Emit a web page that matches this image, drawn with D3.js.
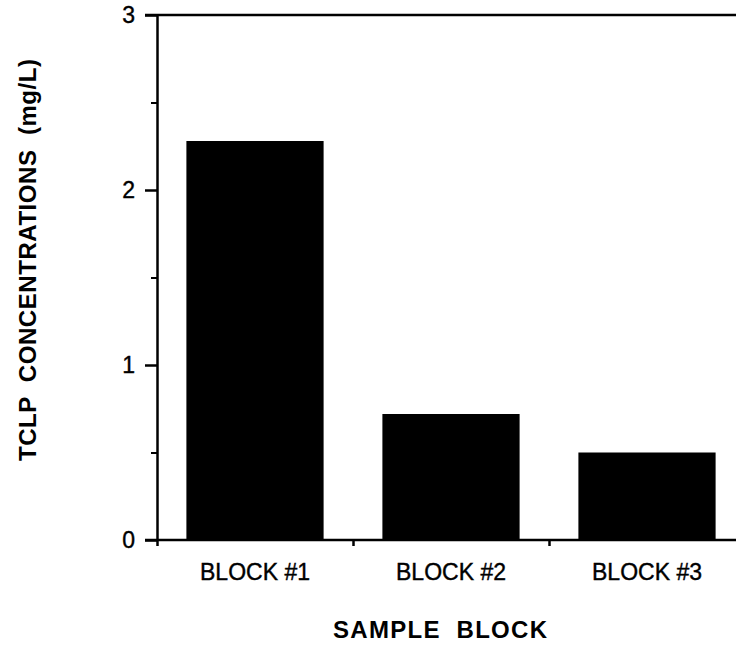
<!DOCTYPE html>
<html>
<head>
<meta charset="utf-8">
<script src="https://cdn.jsdelivr.net/npm/d3@7"></script>
<style>
  html, body { margin: 0; padding: 0; background: #fff; }
  svg { display: block; }
  text { font-family: "Liberation Sans", Arial, sans-serif; fill: #000; }
</style>
</head>
<body>
<svg id="chart" width="736" height="646"></svg>
<script>
const categories = ["BLOCK #1", "BLOCK #2", "BLOCK #3"];
const values = [2.28, 0.72, 0.5];
const majorTicks = [0, 1, 2, 3];
const minorTicks = [0.5, 1.5, 2.5];
const yTitle = "TCLP  CONCENTRATIONS  (mg/L)";
const xTitle = "SAMPLE  BLOCK";

const W = 736, H = 646;
const x0 = 157, x1 = 745, yTop = 15, yBot = 540;
const svg = d3.select("#chart");

const y = d3.scaleLinear().domain([0, 3]).range([yBot, yTop]);
const x = d3.scaleBand().domain(categories).range([x0, x1]).paddingInner(0.3).paddingOuter(0.15);
const xb = d3.scaleLinear().domain([0, categories.length]).range([x0, x1]);

// bars
svg.append("g").selectAll("rect").data(values).join("rect")
  .attr("x", (d, i) => x(categories[i]))
  .attr("width", x.bandwidth())
  .attr("y", d => y(d))
  .attr("height", d => y(0) - y(d))
  .attr("fill", "#000");

const sw = 2.5;

// top frame line
svg.append("line").attr("x1", x0 - 12).attr("x2", W).attr("y1", y(3)).attr("y2", y(3))
  .attr("stroke", "#000").attr("stroke-width", sw);

// x axis baseline
svg.append("line").attr("x1", x0 - 12).attr("x2", W).attr("y1", y(0)).attr("y2", y(0))
  .attr("stroke", "#000").attr("stroke-width", sw);

// y axis major
const gy = svg.append("g").attr("transform", `translate(${x0},0)`)
  .call(d3.axisLeft(y).tickValues(majorTicks).tickSize(12).tickSizeOuter(0).tickPadding(10).tickFormat(d3.format("d")));
gy.select(".domain").attr("stroke", "#000").attr("stroke-width", sw);
gy.selectAll(".tick line").attr("stroke", "#000").attr("stroke-width", sw);
gy.selectAll(".tick text").style("font-size", "23px").style("font-family", "Liberation Sans, Arial, sans-serif")
  .attr("stroke", "#000").attr("stroke-width", 0.4);

// y axis minor
const gm = svg.append("g").attr("transform", `translate(${x0},0)`)
  .call(d3.axisLeft(y).tickValues(minorTicks).tickSize(6).tickFormat(""));
gm.select(".domain").remove();
gm.selectAll(".tick line").attr("stroke", "#000").attr("stroke-width", 2);

// x boundary ticks
const gb = svg.append("g").attr("transform", `translate(0,${yBot})`)
  .call(d3.axisBottom(xb).tickValues([0, 1, 2]).tickSize(6).tickFormat(""));
gb.select(".domain").remove();
gb.selectAll(".tick line").attr("stroke", "#000").attr("stroke-width", 2.5);

// category labels
const gx = svg.append("g").attr("transform", `translate(0,${yBot})`)
  .call(d3.axisBottom(x).tickSize(0).tickPadding(24));
gx.select(".domain").remove();
gx.selectAll(".tick text").style("font-size", "23px").style("font-family", "Liberation Sans, Arial, sans-serif")
  .attr("stroke", "#000").attr("stroke-width", 0.4);

// axis titles
svg.append("text")
  .attr("x", 440).attr("y", 638)
  .attr("text-anchor", "middle")
  .style("font-size", "24px").style("font-weight", "bold").style("white-space", "pre")
  .attr("textLength", 214).attr("lengthAdjust", "spacing")
  .text(xTitle);

svg.append("text")
  .attr("transform", "translate(36,260) rotate(-90)")
  .attr("text-anchor", "middle")
  .style("font-size", "24px").style("font-weight", "bold").style("white-space", "pre")
  .attr("textLength", 402).attr("lengthAdjust", "spacing")
  .text(yTitle);
</script>
</body>
</html>
